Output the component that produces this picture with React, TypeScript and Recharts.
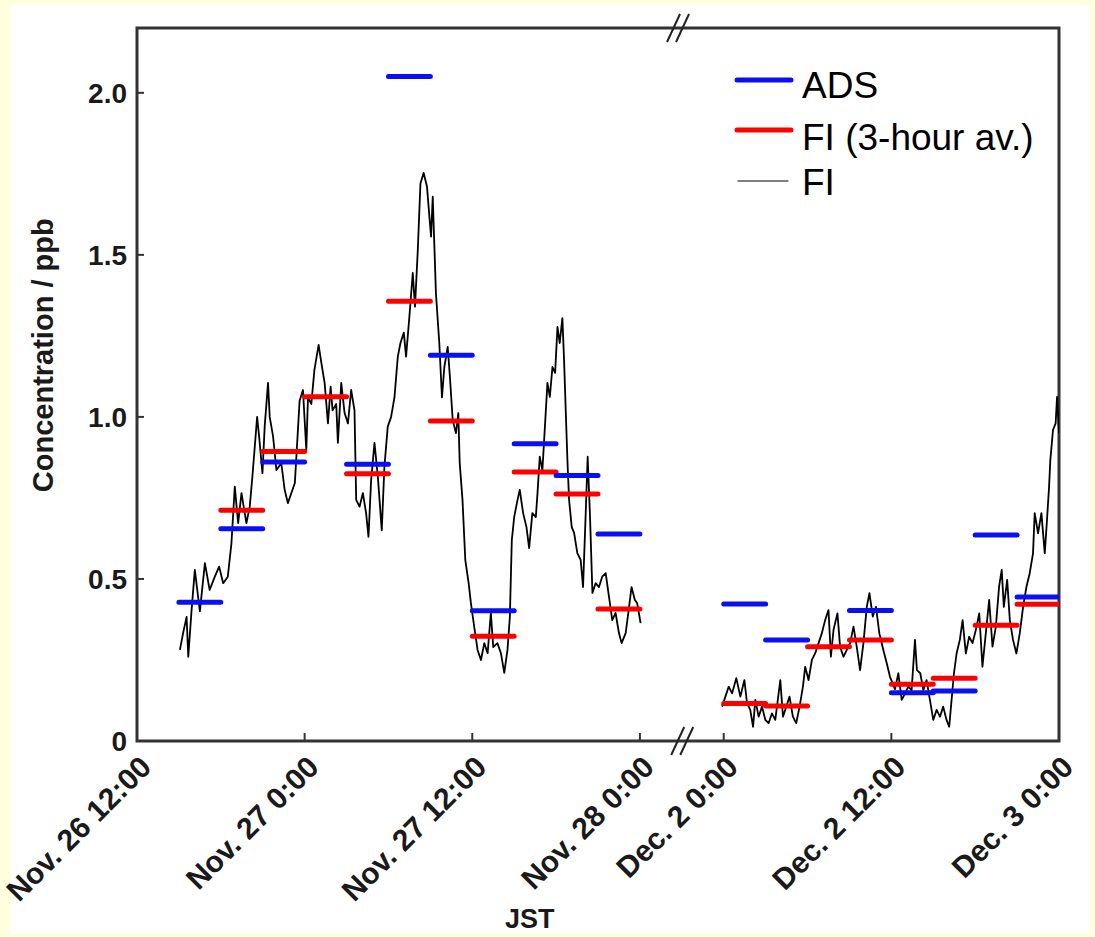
import React from 'react';
import {
  ComposedChart,
  Line,
  XAxis,
  YAxis,
  Legend,
  ReferenceArea,
  ReferenceDot,
  Label,
} from 'recharts';

// ---- Axis ticks (hours since Nov. 26 12:00; 6-hour axis break between Nov 28 and Dec 2) ----
const hourTicks = [0, 12, 24, 36, 42, 54, 66];
const tickLabels = [
  'Nov. 26 12:00',
  'Nov. 27 0:00',
  'Nov. 27 12:00',
  'Nov. 28 0:00',
  'Dec. 2 0:00',
  'Dec. 2 12:00',
  'Dec. 3 0:00',
];
const yTicks = [0, 0.5, 1.0, 1.5, 2.0];
const breakHours = [38.8, 39.1];

// ---- ADS (3-hour samples) ----
const adsStart = [3, 6, 9, 15, 18, 21, 24, 27, 30, 33, 42, 45, 51, 54, 57, 60, 63];
const adsValue = [0.428, 0.655, 0.861, 0.854, 2.05, 1.19, 0.402, 0.917, 0.819, 0.639, 0.423, 0.312, 0.403, 0.149, 0.154, 0.636, 0.444];

// ---- FI 3-hour averages ----
const fiAvgStart = [6, 9, 12, 15, 18, 21, 24, 27, 30, 33, 42, 45, 48, 51, 54, 57, 60, 63];
const fiAvgValue = [0.712, 0.893, 1.062, 0.825, 1.357, 0.987, 0.323, 0.83, 0.762, 0.407, 0.116, 0.108, 0.291, 0.312, 0.175, 0.194, 0.357, 0.422];

// ---- FI continuous record ----
const fiHour = [
  3.07, 3.3, 3.55, 3.67, 3.9, 4.14, 4.5, 4.86, 5.2, 5.57, 5.88, 6.17, 6.5, 6.76, 7.0, 7.24, 7.48, 7.83, 8.07, 8.26,
  8.43, 8.6, 8.74, 8.98, 9.14, 9.38, 9.5, 9.74, 9.98, 10.33, 10.57, 10.8, 11.05, 11.3, 11.52, 11.64, 11.88, 12.12, 12.24, 12.48,
  12.7, 13.0, 13.2, 13.43, 13.67, 13.86, 14.0, 14.26, 14.38, 14.62, 14.86, 15.1, 15.33, 15.57, 15.69, 15.93, 16.17, 16.4, 16.57, 16.76,
  17.0, 17.24, 17.52, 17.71, 17.95, 18.19, 18.43, 18.67, 18.86, 19.1, 19.26, 19.5, 19.74, 19.9, 20.1, 20.29, 20.52, 20.76, 20.93, 21.05,
  21.17, 21.4, 21.64, 21.83, 22.0, 22.24, 22.4, 22.6, 22.83, 23.0, 23.1, 23.3, 23.5, 23.74, 23.9, 24.14, 24.38, 24.62, 24.86, 25.1,
  25.33, 25.5, 25.8, 26.05, 26.29, 26.52, 26.69, 26.83, 27.0, 27.24, 27.4, 27.64, 27.88, 28.07, 28.3, 28.55, 28.67, 28.83, 29.02, 29.2,
  29.38, 29.55, 29.74, 29.93, 30.1, 30.26, 30.45, 30.57, 30.69, 30.81, 30.93, 31.12, 31.29, 31.52, 31.76, 31.93, 32.12, 32.26, 32.43, 32.6,
  32.83, 33.07, 33.3, 33.55, 33.79, 34.02, 34.26, 34.5, 34.69, 34.98, 35.17, 35.4, 35.64, 35.8, 36.05,
  39,
  41.88, 42.12, 42.36, 42.6, 42.9, 43.19, 43.48, 43.67, 43.9, 44.1, 44.26, 44.5, 44.74, 44.98, 45.21, 45.45, 45.69, 45.93, 46.05, 46.24,
  46.48, 46.71, 46.95, 47.19, 47.43, 47.67, 47.83, 48.07, 48.31, 48.55, 48.79, 49.02, 49.26, 49.5, 49.67, 49.86, 50.14, 50.33, 50.57, 50.81,
  51.05, 51.29, 51.52, 51.76, 52.0, 52.24, 52.43, 52.67, 52.9, 53.14, 53.43, 53.67, 53.9, 54.26, 54.5, 54.74, 54.98, 55.21, 55.45, 55.69,
  55.83, 56.07, 56.29, 56.52, 56.76, 57.0, 57.24, 57.48, 57.71, 57.95, 58.14, 58.31, 58.48, 58.67, 58.9, 59.1, 59.33, 59.57, 59.81, 60.05,
  60.29, 60.52, 60.76, 61.0, 61.24, 61.48, 61.71, 61.9, 62.05, 62.29, 62.48, 62.71, 62.95, 63.19, 63.43, 63.67, 63.9, 64.14, 64.26, 64.5,
  64.74, 64.98, 65.14, 65.29, 65.38, 65.57, 65.76, 65.86, 66.0,
];
const fiValue = [
  0.281, 0.333, 0.383, 0.26, 0.4, 0.528, 0.4, 0.549, 0.466, 0.507, 0.538, 0.487, 0.507, 0.61, 0.785, 0.672, 0.765, 0.672, 0.723, 0.816,
  0.908, 1.0, 0.94, 0.826, 0.97, 1.105, 1.0, 0.94, 0.836, 0.857, 0.775, 0.734, 0.765, 0.796, 0.96, 1.05, 1.083, 0.898, 1.06, 1.04,
  1.145, 1.222, 1.166, 1.105, 0.98, 1.093, 1.02, 1.04, 0.92, 1.105, 1.012, 0.98, 1.083, 1.02, 0.744, 0.723, 0.765, 0.703, 0.63, 0.805,
  0.92, 0.816, 0.65, 0.846, 0.97, 1.0, 1.06, 1.186, 1.228, 1.26, 1.186, 1.31, 1.444, 1.34, 1.515, 1.72, 1.753, 1.71, 1.618, 1.556,
  1.68, 1.38, 1.228, 1.06, 1.154, 1.216, 1.123, 0.99, 0.95, 1.012, 0.858, 0.744, 0.559, 0.487, 0.426, 0.352, 0.281, 0.25, 0.302, 0.271,
  0.395, 0.29, 0.302, 0.271, 0.21, 0.281, 0.383, 0.62, 0.691, 0.744, 0.775, 0.703, 0.66, 0.595, 0.703, 0.691, 0.765, 0.877, 0.836, 0.97,
  1.105, 1.062, 1.154, 1.136, 1.278, 1.228, 1.305, 1.176, 1.02, 0.867, 0.744, 0.66, 0.642, 0.58, 0.559, 0.475, 0.703, 0.877, 0.691, 0.457,
  0.487, 0.475, 0.507, 0.518, 0.444, 0.373, 0.395, 0.333, 0.302, 0.333, 0.395, 0.475, 0.435, 0.426, 0.364,
  null,
  0.106, 0.137, 0.168, 0.147, 0.194, 0.137, 0.188, 0.116, 0.096, 0.044, 0.127, 0.075, 0.106, 0.065, 0.055, 0.085, 0.065, 0.147, 0.188, 0.075,
  0.106, 0.137, 0.075, 0.055, 0.106, 0.168, 0.229, 0.188, 0.25, 0.271, 0.302, 0.332, 0.373, 0.404, 0.26, 0.343, 0.394, 0.291, 0.26, 0.281,
  0.302, 0.353, 0.291, 0.219, 0.302, 0.414, 0.456, 0.384, 0.414, 0.332, 0.28, 0.24, 0.198, 0.16, 0.209, 0.127, 0.147, 0.168, 0.157, 0.312,
  0.219, 0.209, 0.157, 0.188, 0.127, 0.065, 0.096, 0.075, 0.106, 0.065, 0.044, 0.127, 0.209, 0.27, 0.312, 0.373, 0.27, 0.322, 0.302, 0.343,
  0.394, 0.229, 0.332, 0.435, 0.291, 0.353, 0.476, 0.528, 0.414, 0.497, 0.373, 0.312, 0.27, 0.332, 0.414, 0.476, 0.517, 0.579, 0.703, 0.641,
  0.703, 0.579, 0.682, 0.785, 0.867, 0.96, 0.98, 1.062, 0.95,
];

const FONT = "'Liberation Sans', Arial, Helvetica, sans-serif";
const BLUE = '#0a10f2';
const RED = '#ff0000';

const fiData = fiHour.map((h, i) => ({ h, v: fiValue[i] }));
const toSegments = (starts: number[], vals: number[]) =>
  starts.flatMap((s, i) => [
    { h: s, v: vals[i] },
    { h: s + 3, v: vals[i] },
    { h: s + 3, v: null },
  ]);
const adsData = toSegments(adsStart, adsValue);
const fiAvgData = toSegments(fiAvgStart, fiAvgValue);

const XTick = (props: any) => {
  const { x, y, payload } = props;
  const idx = hourTicks.indexOf(payload.value);
  return (
    <g transform={`translate(${x + 16},${y + 28})`}>
      <text
        textAnchor="end"
        transform="rotate(-45)"
        fontSize={30}
        fontWeight="bold"
        fontFamily={FONT}
        fill="#1a1a1a"
      >
        {tickLabels[idx]}
      </text>
    </g>
  );
};

const BreakMark = (props: any) => {
  const { cx, cy } = props;
  return (
    <g stroke="#222" strokeWidth={2}>
      <line x1={cx - 12} y1={cy + 14} x2={cx + 1} y2={cy - 14} />
      <line x1={cx - 3} y1={cy + 14} x2={cx + 10} y2={cy - 14} />
    </g>
  );
};

const renderYLabel = (props: any) => {
  const vb = props.viewBox;
  const cx = vb.x + 43;
  const cy = vb.y + vb.height * 0.459;
  return (
    <text
      x={cx}
      y={cy}
      transform={`rotate(-90, ${cx}, ${cy})`}
      textAnchor="middle"
      dominantBaseline="central"
      fontSize={29}
      fontWeight="bold"
      fontFamily={FONT}
      fill="#1a1a1a"
    >
      Concentration / ppb
    </text>
  );
};

const renderXLabel = (props: any) => {
  const vb = props.viewBox;
  return (
    <text
      x={vb.x + vb.width * 0.426}
      y={vb.y + 187}
      textAnchor="middle"
      fontSize={27}
      fontWeight="bold"
      fontFamily={FONT}
      fill="#1a1a1a"
    >
      JST
    </text>
  );
};

const legendOrder = ['ADS', 'FI (3-hour av.)', 'FI'];
const renderLegend = (props: any) => {
  const payload = props.payload || [];
  const rows = legendOrder
    .map((n) => payload.find((p: any) => p.value === n))
    .filter(Boolean);
  const lineY = [25, 75, 126];
  const textY = [43, 95, 140];
  return (
    <svg width={350} height={150} style={{ display: 'block' }}>
      {rows.map((p: any, i: number) => {
        const thin = p.value === 'FI';
        return (
          <g key={p.value}>
            <line
              x1={thin ? 5 : 4}
              x2={thin ? 55 : 58}
              y1={lineY[i]}
              y2={lineY[i]}
              stroke={p.color}
              strokeWidth={thin ? 1.2 : 5}
              strokeLinecap="round"
            />
            <text x={69} y={textY[i]} fontSize={37} fontFamily={FONT} fill="#000">
              {p.value}
            </text>
          </g>
        );
      })}
    </svg>
  );
};

export default function App() {
  return (
    <div
      style={{
        position: 'fixed',
        left: 0,
        top: 0,
        width: 1095,
        height: 937,
        background: '#ffffde',
        overflow: 'hidden',
      }}
    >
      <div
        style={{
          position: 'absolute',
          left: 11,
          top: 5,
          width: 1079,
          height: 928,
          background: '#ffffff',
        }}
      />
      <div style={{ position: 'absolute', left: 0, top: 0 }}>
        <ComposedChart
          width={1095}
          height={937}
          margin={{ top: 28, right: 36, bottom: 0, left: 0 }}
        >
          <XAxis
            type="number"
            dataKey="h"
            domain={[0, 66]}
            ticks={hourTicks}
            interval={0}
            tick={<XTick />}
            tickSize={-8}
            tickMargin={8}
            tickLine={{ stroke: '#333', strokeWidth: 2 }}
            axisLine={false}
            height={196}
            allowDataOverflow
          >
            <Label content={renderXLabel} />
          </XAxis>
          <YAxis
            type="number"
            domain={[0, 2.2]}
            ticks={yTicks}
            interval={0}
            tickFormatter={(v: number) => (v === 0 ? '0' : v.toFixed(1))}
            tick={{ fontSize: 28, fontWeight: 'bold', fill: '#1a1a1a', fontFamily: FONT }}
            tickSize={-7}
            tickMargin={17}
            tickLine={{ stroke: '#333', strokeWidth: 2 }}
            axisLine={false}
            width={137}
            allowDataOverflow
          >
            <Label content={renderYLabel} />
          </YAxis>
          <ReferenceArea
            x1={0}
            x2={66}
            y1={0}
            y2={2.2}
            fill="none"
            stroke="#333"
            strokeWidth={3}
            ifOverflow="visible"
          />
          <ReferenceDot x={breakHours[1]} y={0} ifOverflow="visible" shape={BreakMark} />
          <ReferenceDot x={breakHours[0]} y={2.2} ifOverflow="visible" shape={BreakMark} />
          <Line
            data={fiData}
            dataKey="v"
            name="FI"
            type="linear"
            stroke="#000"
            strokeWidth={1.8}
            strokeLinejoin="round"
            dot={false}
            activeDot={false}
            isAnimationActive={false}
          />
          <Line
            data={fiAvgData}
            dataKey="v"
            name="FI (3-hour av.)"
            type="linear"
            stroke={RED}
            strokeWidth={5}
            strokeLinecap="round"
            dot={false}
            activeDot={false}
            isAnimationActive={false}
          />
          <Line
            data={adsData}
            dataKey="v"
            name="ADS"
            type="linear"
            stroke={BLUE}
            strokeWidth={5}
            strokeLinecap="round"
            dot={false}
            activeDot={false}
            isAnimationActive={false}
          />
          <Legend
            layout="vertical"
            align="center"
            verticalAlign="middle"
            content={renderLegend}
            wrapperStyle={{ top: 55, left: 733, width: 350 }}
          />
        </ComposedChart>
      </div>
    </div>
  );
}
